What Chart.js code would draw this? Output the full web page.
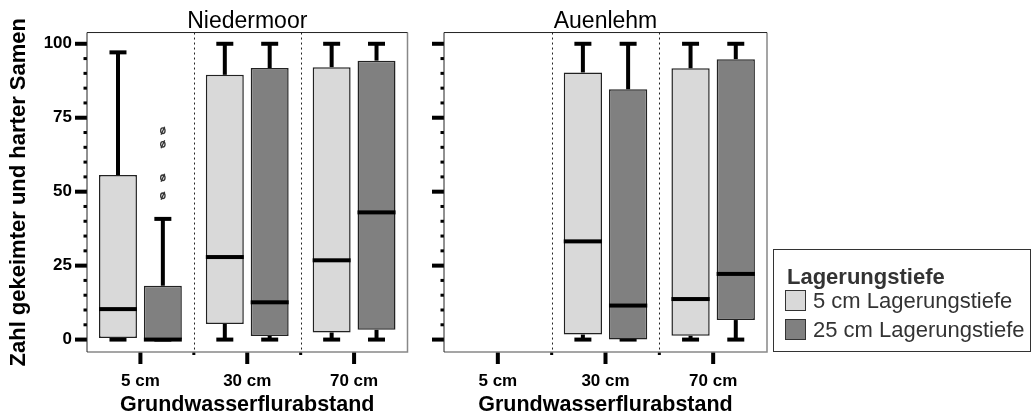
<!DOCTYPE html>
<html>
<head>
<meta charset="utf-8">
<title>Keimung nach Lagerungstiefe</title>
<script src="https://cdn.jsdelivr.net/npm/chart.js@4.4.1/dist/chart.umd.min.js"></script>
<style>
  body { margin: 0; background: #fff; font-family: 'Liberation Sans', Arial, sans-serif; }
  canvas { position: absolute; top: 0; }
  #legend { position: absolute; left: 773px; top: 249px; width: 256px; height: 101px;
            border: 1.5px solid #333; color: #333; font-size: 22px; }
  #legend .ttl { position: absolute; left: 13px; top: 14px; font-weight: bold; }
  #legend .item { position: absolute; left: 11px; height: 24px; line-height: 24px; white-space: nowrap; }
  #legend .sw { display: inline-block; width: 19px; height: 19px; border: 1.5px solid #333;
                vertical-align: -3px; margin-right: 7px; }
</style>
</head>
<body>
<canvas id="c1" width="420" height="419" style="left:0px"></canvas>
<canvas id="c2" width="360" height="419" style="left:420px"></canvas>
<div id="legend"></div>
<script>
// each row: [min, q1, median, q3, max] per category
var categories = ['5 cm', '30 cm', '70 cm'];
var seriesLabels = ['5 cm Lagerungstiefe', '25 cm Lagerungstiefe'];
var seriesColors = ['#d9d9d9', '#808080'];
var yTicks = [0, 25, 50, 75, 100];

var niedermoor5 = [[0, 0.5, 10.3, 55.6, 97.1], [0, 5.3, 27.9, 89.5, 100], [0, 2.4, 26.8, 92.1, 100]];
var niedermoor25 = [[0, 0, 0, 18.2, 40.8], [0, 1.2, 12.6, 91.8, 100], [0, 3.3, 43.0, 94.3, 100]];
var niedermoor25Out = [[48.6, 54.7, 66.0, 70.6], [], []];
var auenlehm5 = [null, [0, 1.7, 33.2, 90.3, 100], [0, 1.3, 13.7, 91.7, 100]];
var auenlehm25 = [null, [0, 0, 11.5, 84.6, 100], [0, 6.6, 22.2, 94.8, 100]];

var FONT = "'Liberation Sans', Arial, sans-serif";

var boxParts = {
  id: 'boxParts',
  beforeDatasetsDraw: function(chart) {
    var ctx = chart.ctx, a = chart.chartArea, x = chart.scales.x, y = chart.scales.y;
    ctx.save();
    // dotted lines between categories
    ctx.strokeStyle = '#222';
    ctx.lineWidth = 1;
    ctx.setLineDash([2, 3]);
    for (var i = 0; i < categories.length - 1; i++) {
      var sx = Math.round((x.getPixelForValue(i) + x.getPixelForValue(i + 1)) / 2) + 0.5;
      ctx.beginPath(); ctx.moveTo(sx, a.top); ctx.lineTo(sx, a.bottom); ctx.stroke();
    }
    ctx.setLineDash([]);
    // whiskers
    ctx.strokeStyle = '#000';
    ctx.lineWidth = 4;
    chart.data.datasets.forEach(function(ds, di) {
      var meta = chart.getDatasetMeta(di);
      ds.stats.forEach(function(s, j) {
        if (!s) return;
        var bx = meta.data[j].x;
        [[s[3], s[4]], [s[1], s[0]]].forEach(function(p) {
          var y0 = y.getPixelForValue(p[0]), y1 = y.getPixelForValue(p[1]);
          ctx.beginPath(); ctx.moveTo(bx, y0); ctx.lineTo(bx, y1); ctx.stroke();
          ctx.beginPath(); ctx.moveTo(bx - 8.5, y1); ctx.lineTo(bx + 8.5, y1); ctx.stroke();
        });
      });
    });
    ctx.restore();
  },
  afterDatasetsDraw: function(chart) {
    var ctx = chart.ctx, y = chart.scales.y;
    ctx.save();
    chart.data.datasets.forEach(function(ds, di) {
      var meta = chart.getDatasetMeta(di);
      ds.stats.forEach(function(s, j) {
        if (!s) return;
        var bar = meta.data[j];
        var my = y.getPixelForValue(s[2]);
        ctx.fillStyle = '#000';
        ctx.fillRect(bar.x - bar.width / 2, my - 2, bar.width, 4);
      });
      (ds.outliers || []).forEach(function(list, j) {
        var bx = meta.data[j].x;
        list.forEach(function(v) {
          var oy = y.getPixelForValue(v);
          ctx.strokeStyle = '#333';
          ctx.lineWidth = 1.3;
          ctx.beginPath(); ctx.ellipse(bx, oy, 2.2, 2.8, 0, 0, Math.PI * 2); ctx.stroke();
          ctx.beginPath(); ctx.moveTo(bx - 1.8, oy + 4); ctx.lineTo(bx + 1.8, oy - 4); ctx.stroke();
        });
      });
    });
    ctx.restore();
  },
  afterDraw: function(chart) {
    var ctx = chart.ctx, a = chart.chartArea, x = chart.scales.x, y = chart.scales.y;
    ctx.save();
    ctx.fillStyle = '#000';
    // y tick marks, long at labelled values, short every 5
    for (var v = 0; v <= 100; v += 5) {
      var py = y.getPixelForValue(v);
      if (yTicks.indexOf(v) >= 0) ctx.fillRect(a.left - 12, py - 2, 12, 4);
      else ctx.fillRect(a.left - 3.5, py - 1.5, 3.5, 3);
    }
    // x tick marks
    for (var i = 0; i < categories.length; i++) {
      var cx = x.getPixelForValue(i);
      ctx.fillRect(cx - 2, a.bottom, 4, 12);
      if (i < categories.length - 1) {
        var sx = (cx + x.getPixelForValue(i + 1)) / 2;
        ctx.fillRect(sx - 1.5, a.bottom, 3, 3);
      }
    }
    // frame
    ctx.lineWidth = 1.5;
    ctx.strokeStyle = '#888';
    ctx.beginPath(); ctx.moveTo(a.right, a.top); ctx.lineTo(a.right, a.bottom); ctx.lineTo(a.left, a.bottom); ctx.stroke();
    ctx.lineWidth = 1;
    ctx.strokeStyle = '#222';
    ctx.beginPath(); ctx.moveTo(a.left, a.bottom); ctx.lineTo(a.left, a.top); ctx.lineTo(a.right, a.top); ctx.stroke();
    ctx.restore();
  }
};

function makeDatasets(s5, s25, out25) {
  return [s5, s25].map(function(stats, k) {
    return {
      label: seriesLabels[k],
      data: stats.map(function(s) { return s ? [s[1], s[3]] : null; }),
      stats: stats,
      outliers: k === 1 ? out25 : null,
      backgroundColor: seriesColors[k],
      borderColor: '#222',
      borderWidth: 1.5,
      borderSkipped: false,
      categoryPercentage: 0.84,
      barPercentage: 0.846
    };
  });
}

function makeChart(id, title, datasets, yWidth, padRight, showYLabels) {
  return new Chart(document.getElementById(id).getContext('2d'), {
    type: 'bar',
    data: { labels: categories, datasets: datasets },
    options: {
      responsive: false,
      animation: false,
      layout: { padding: { right: padRight } },
      plugins: {
        legend: { display: false },
        tooltip: { enabled: false },
        title: { display: true, text: title, fullSize: false, color: '#000',
                 font: { family: FONT, size: 23, weight: 'normal', lineHeight: 0.98 },
                 padding: { top: 10, bottom: 0 } }
      },
      scales: {
        x: {
          grid: { display: false, drawTicks: false },
          border: { display: false },
          ticks: { color: '#000', padding: 19, font: { family: FONT, size: 17, weight: 'bold' } },
          title: { display: true, text: 'Grundwasserflurabstand', color: '#000',
                   font: { family: FONT, size: 21.5, weight: 'bold' }, padding: { top: 0, bottom: 1 } },
          afterFit: function(s) { s.height = 67; }
        },
        y: {
          min: -4.2, max: 103.8,
          grid: { display: false, drawTicks: false },
          border: { display: false },
          ticks: { display: showYLabels, stepSize: 25, includeBounds: false, autoSkip: false, padding: 15,
                   color: '#000', font: { family: FONT, size: 17, weight: 'bold' },
                   callback: function(v) { return yTicks.indexOf(v) >= 0 ? String(v) : ''; } },
          title: { display: showYLabels, text: 'Zahl gekeimter und harter Samen', color: '#000',
                   font: { family: FONT, size: 22, weight: 'bold' }, padding: { top: 6, bottom: 0 } },
          afterFit: function(s) { s.width = yWidth; }
        }
      }
    },
    plugins: [boxParts]
  });
}

makeChart('c1', 'Niedermoor', makeDatasets(niedermoor5, niedermoor25, niedermoor25Out), 87, 12.5, true);
makeChart('c2', 'Auenlehm', makeDatasets(auenlehm5, auenlehm25, null), 24, 13, false);

// legend
var lg = document.getElementById('legend');
var html = '<div class="ttl">Lagerungstiefe</div>';
seriesLabels.forEach(function(l, k) {
  html += '<div class="item" style="top:' + (39 + k * 29) + 'px"><span class="sw" style="background:' +
    seriesColors[k] + '"></span>' + l + '</div>';
});
lg.innerHTML = html;
</script>
</body>
</html>
